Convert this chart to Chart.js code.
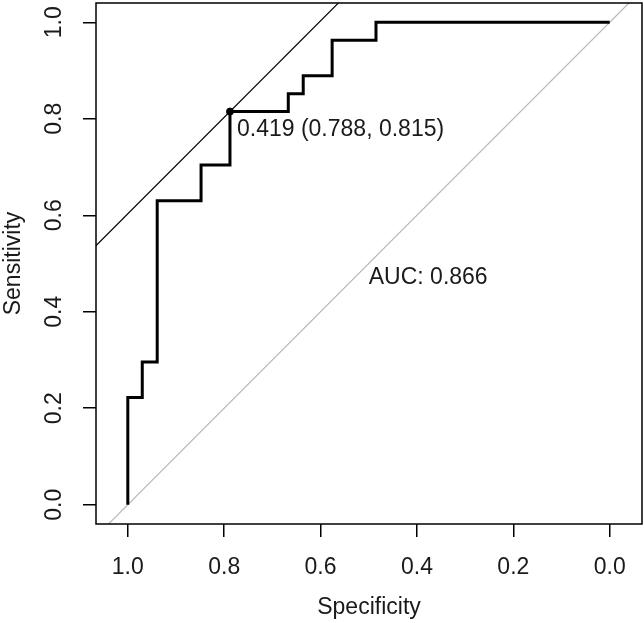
<!DOCTYPE html>
<html>
<head>
<meta charset="utf-8">
<script src="https://cdn.jsdelivr.net/npm/chart.js@4.4.1/dist/chart.umd.min.js"></script>
<style>
  html, body { margin: 0; padding: 0; background: #fff; }
  canvas { display: block; }
</style>
</head>
<body>
<canvas id="rocChart" width="644" height="623"></canvas>
<script>
// ROC曲線の角の点（特異度, 感度）
const rocSpecificity = [1.000, 1.000, 0.970, 0.970, 0.939, 0.939, 0.848, 0.848, 0.788, 0.788, 0.667, 0.667, 0.636, 0.636, 0.576, 0.576, 0.485, 0.485, 0.000];
const rocSensitivity = [0.000, 0.222, 0.222, 0.296, 0.296, 0.630, 0.630, 0.704, 0.704, 0.815, 0.815, 0.852, 0.852, 0.889, 0.889, 0.963, 0.963, 1.000, 1.000];

// 最適カットオフ と AUC
const bestThreshold = 0.419;
const bestSpecificity = 0.788;
const bestSensitivity = 0.815;
const aucValue = 0.866;

// 目盛り
const xTicks = [1.0, 0.8, 0.6, 0.4, 0.2, 0.0];
const yTicks = [0.0, 0.2, 0.4, 0.6, 0.8, 1.0];

// 対角線（灰色）と接線の両端
const diagSpecificity = [1.2, -0.2];
const diagSensitivity = [-0.2, 1.2];
const tangentSpecificity = [1.2, 0.3];
const tangentSensitivity = [0.403, 1.303];

const textColor = '#1a1a1a';
const fontFamily = '"Liberation Sans", Arial, sans-serif';

const toPoints = (xs, ys) => xs.map((v, i) => ({ x: v, y: ys[i] }));

/* ==================================================
  枠線・y目盛りラベル(縦書き)・注釈テキスト
================================================== */
const rocDecor = {
  id: 'rocDecor',
  afterDraw(chart) {
    const { ctx, chartArea: a, scales: { x, y } } = chart;
    ctx.save();
    ctx.strokeStyle = '#000';
    ctx.lineWidth = 1.5;
    ctx.strokeRect(a.left, a.top, a.right - a.left, a.bottom - a.top);

    ctx.font = `23px ${fontFamily}`;
    ctx.fillStyle = textColor;
    ctx.textAlign = 'center';
    ctx.textBaseline = 'middle';
    yTicks.forEach(v => {
      ctx.save();
      ctx.translate(55, y.getPixelForValue(v));
      ctx.rotate(-Math.PI / 2);
      ctx.fillText(v.toFixed(1), 0, 0);
      ctx.restore();
    });

    ctx.textAlign = 'left';
    ctx.textBaseline = 'alphabetic';
    const thresLabel = `${bestThreshold.toFixed(3)} (${bestSpecificity.toFixed(3)}, ${bestSensitivity.toFixed(3)})`;
    ctx.fillText(thresLabel, x.getPixelForValue(bestSpecificity) + 7, y.getPixelForValue(bestSensitivity) + 24);
    ctx.fillText(`AUC: ${aucValue.toFixed(3)}`, x.getPixelForValue(0.5), y.getPixelForValue(0.5) + 20);
    ctx.restore();
  }
};

const ctx = document.getElementById('rocChart').getContext('2d');
new Chart(ctx, {
  type: 'scatter',
  data: {
    datasets: [
      {
        label: 'ROC',
        data: toPoints(rocSpecificity, rocSensitivity),
        showLine: true,
        borderColor: '#000',
        borderWidth: 3,
        pointRadius: 0,
        order: 1
      },
      {
        label: 'best',
        data: [{ x: bestSpecificity, y: bestSensitivity }],
        pointRadius: 3.5,
        pointBackgroundColor: '#000',
        pointBorderColor: '#000',
        order: 0
      },
      {
        label: 'tangent',
        data: toPoints(tangentSpecificity, tangentSensitivity),
        showLine: true,
        borderColor: '#000',
        borderWidth: 1.2,
        pointRadius: 0,
        order: 2
      },
      {
        label: 'chance',
        data: toPoints(diagSpecificity, diagSensitivity),
        showLine: true,
        borderColor: '#b8b8b8',
        borderWidth: 1.2,
        pointRadius: 0,
        order: 3
      }
    ]
  },
  options: {
    responsive: false,
    animation: false,
    layout: { autoPadding: false, padding: { top: 3, right: 2, left: 0, bottom: 0 } },
    plugins: { legend: { display: false }, tooltip: { enabled: false } },
    scales: {
      x: {
        type: 'linear',
        reverse: true,
        min: -0.067,
        max: 1.066,
        afterBuildTicks: scale => { scale.ticks = xTicks.map(value => ({ value })); },
        afterFit: scale => {
          scale.height = 99;
          scale.paddingLeft = 0;
          scale.paddingRight = 0;
        },
        border: { display: false },
        grid: { drawOnChartArea: false, drawTicks: true, tickLength: 13, color: '#000', lineWidth: 1.5 },
        ticks: {
          padding: 17,
          color: textColor,
          font: { family: fontFamily, size: 23 },
          callback: v => v.toFixed(1)
        },
        title: {
          display: true,
          text: 'Specificity',
          color: textColor,
          font: { family: fontFamily, size: 23 },
          padding: { top: 0, bottom: 2 }
        }
      },
      y: {
        type: 'linear',
        min: -0.04,
        max: 1.04,
        afterBuildTicks: scale => { scale.ticks = yTicks.map(value => ({ value })); },
        afterFit: scale => {
          scale.width = 96;
          scale.paddingTop = 0;
          scale.paddingBottom = 0;
        },
        border: { display: false },
        grid: { drawOnChartArea: false, drawTicks: true, tickLength: 13, color: '#000', lineWidth: 1.5 },
        ticks: { display: false },
        title: {
          display: true,
          text: 'Sensitivity',
          color: textColor,
          font: { family: fontFamily, size: 23 },
          padding: { top: 0, bottom: 0 }
        }
      }
    }
  },
  plugins: [rocDecor]
});
</script>
</body>
</html>
